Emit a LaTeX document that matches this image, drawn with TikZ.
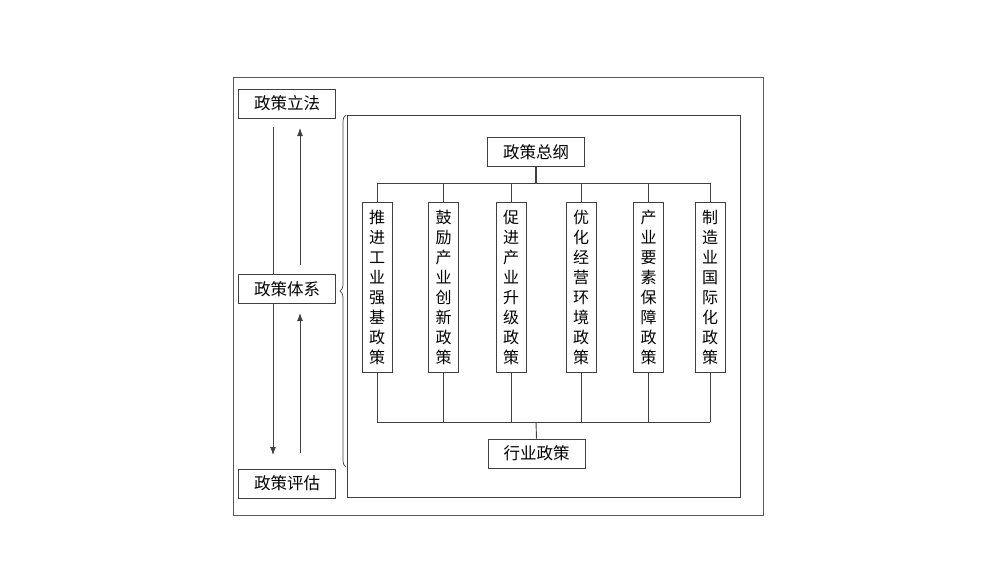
\documentclass[tikz,border=0pt]{standalone}
\usepackage{fontspec}
\newfontfamily\cjk{Noto Sans CJK SC}
\usetikzlibrary{arrows.meta,decorations.pathreplacing}
\begin{document}
\begin{tikzpicture}[x=1pt,y=-1pt,
  ln/.style={draw=black!75,line width=0.9pt},
  hbox/.style={ln,fill=white,minimum width=97pt,minimum height=29pt,inner sep=0pt,font=\cjk\fontsize{16.5}{19}\selectfont},
  vbox/.style={ln,fill=white,minimum width=30pt,minimum height=170pt,inner sep=0pt,align=center,font=\cjk\fontsize{16}{20}\selectfont},
  arr/.style={ln,-{Latex[length=8pt,width=6pt]}}]
\useasboundingbox (0,0) rectangle (1000,563);
\draw[ln,draw=black!65] (233,77) rectangle (763,515);
\draw[ln] (347,115) rectangle (740,497);
\node[hbox] (lf) at (287,103.5) {政策立法};
\node[hbox] (tx) at (287,289) {政策体系};
\node[hbox] (pg) at (287,483.5) {政策评估};
\node[hbox] (zg) at (536,152) {政策总纲};
\node[hbox] (hy) at (536.5,453.5) {行业政策};
\node[vbox] (v1) at (377,287) {推\\进\\工\\业\\强\\基\\政\\策};
\node[vbox] (v2) at (443.5,287) {鼓\\励\\产\\业\\创\\新\\政\\策};
\node[vbox] (v3) at (511,287.5) {促\\进\\产\\业\\升\\级\\政\\策};
\node[vbox] (v4) at (581,287.5) {优\\化\\经\\营\\环\\境\\政\\策};
\node[vbox] (v5) at (648.5,287.5) {产\\业\\要\\素\\保\\障\\政\\策};
\node[vbox] (v6) at (710,287) {制\\造\\业\\国\\际\\化\\政\\策};
% top tree
\coordinate (tb) at (536,183);
\coordinate (bb) at (536,422);
\draw[ln,line width=1.6pt] (zg.south) -- (tb);
\draw[ln] (v1.north |- tb) -- (v6.north |- tb);
\foreach \v in {v1,v2,v3,v4,v5,v6}{
  \draw[ln] (\v.north) -- (\v.north |- tb);
  \draw[ln] (\v.south) -- (\v.south |- bb);
}
\draw[ln] (v1.south |- bb) -- (v6.south |- bb);
\draw[ln] (hy.north) -- (bb);
% left arrows
\coordinate (d1) at (273,127);
\coordinate (d2) at (273,455);
\coordinate (u1s) at (300,265);
\coordinate (u1e) at (300,128);
\coordinate (u2s) at (300,453);
\coordinate (u2e) at (300,313);
\draw[ln] (d1) -- (d1 |- tx.north);
\draw[arr] (d1 |- tx.south) -- (d2);
\draw[arr] (u1s) -- (u1e);
\draw[arr] (u2s) -- (u2e);
% brace
\coordinate (br1) at (346,467);
\coordinate (br2) at (346,115);
\draw[ln,line width=0.7pt,decorate,decoration={brace,amplitude=6pt}] (br1) -- (br2);
\end{tikzpicture}
\end{document}
